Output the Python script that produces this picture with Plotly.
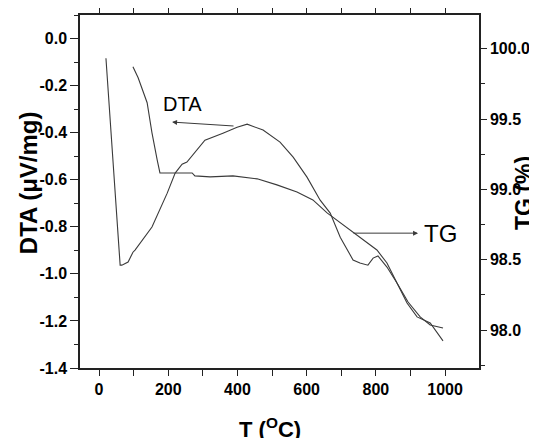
import plotly.graph_objs as go

# DTA curve (left axis, µV/mg)
dta_temp = [20, 61, 66, 84, 98, 104, 153, 197, 220, 240, 254, 277, 306, 358, 399, 428,
            474, 523, 561, 601, 639, 668, 697, 734, 754, 777, 792, 806, 832, 861, 890,
            919, 957, 994]
dta_val = [-0.084, -0.963, -0.963, -0.950, -0.908, -0.899, -0.801, -0.657, -0.572, -0.534,
           -0.525, -0.483, -0.432, -0.402, -0.377, -0.364, -0.389, -0.440, -0.504, -0.589,
           -0.687, -0.742, -0.844, -0.941, -0.954, -0.963, -0.933, -0.924, -0.971, -1.039,
           -1.124, -1.183, -1.209, -1.285]

# TG curve (right axis, %)
tg_temp = [98, 113, 139, 153, 168, 176, 269, 277, 321, 387, 457, 514, 572, 618, 659, 725,
           763, 803, 832, 861, 893, 928, 957, 994]
tg_val = [99.872, 99.794, 99.616, 99.402, 99.210, 99.117, 99.117, 99.096, 99.089, 99.096,
          99.075, 99.032, 98.982, 98.925, 98.833, 98.712, 98.641, 98.569, 98.477, 98.335,
          98.199, 98.093, 98.036, 98.014]

x_ticks = [0, 200, 400, 600, 800, 1000]
dta_ticks = [0.0, -0.2, -0.4, -0.6, -0.8, -1.0, -1.2, -1.4]
dta_labels = ['0.0', '-0.2', '-0.4', '-0.6', '-0.8', '-1.0', '-1.2', '-1.4']
tg_ticks = [98.0, 98.5, 99.0, 99.5, 100.0]

FONT = 'Liberation Sans, Arial, sans-serif'
TICKFONT = dict(family=FONT, size=16, color='black', weight='bold')
LINE = '#3a3a3a'

fig = go.Figure()

fig.add_trace(go.Scatter(x=dta_temp, y=dta_val, mode='lines',
                         line=dict(color=LINE, width=1.1), yaxis='y'))
fig.add_trace(go.Scatter(x=tg_temp, y=tg_val, mode='lines',
                         line=dict(color=LINE, width=1.1), yaxis='y2'))

axis_common = dict(showline=True, linecolor='#222', linewidth=1.5, ticks='outside',
                   tickcolor='#222', tickwidth=1.2, showgrid=False, zeroline=False,
                   tickfont=TICKFONT, automargin=False)

# page body adds an 8px offset, so the figure is 8px smaller than the window
fig.update_layout(
    width=529, height=430,
    margin=dict(l=72, r=58, t=7, b=70, autoexpand=False),
    paper_bgcolor='white', plot_bgcolor='white',
    showlegend=False,
    font=dict(family=FONT, color='black'),
    xaxis=dict(range=[-55, 1098], tickvals=x_ticks, ticklen=6, mirror='allticks',
               minor=dict(dtick=100, tick0=0, ticks='outside', ticklen=4,
                          tickcolor='#222'),
               **axis_common),
    yaxis=dict(range=[-1.4, 0.1], tickvals=dta_ticks, ticktext=dta_labels, ticklen=8,
               minor=dict(dtick=0.1, tick0=0, ticks='outside', ticklen=4,
                          tickcolor='#222'),
               **axis_common),
    yaxis2=dict(range=[97.73, 100.24], overlaying='y', side='right',
                tickvals=tg_ticks, tickformat='.1f', ticklen=6,
                minor=dict(dtick=0.25, tick0=0, ticks='outside', ticklen=4,
                           tickcolor='#222'),
                **axis_common),
)

# axis titles
fig.add_annotation(xref='paper', yref='paper', x=-0.13, y=0.524, textangle=-90,
                   xanchor='center', yanchor='middle',
                   text='DTA (μV/mg)', showarrow=False,
                   font=dict(family=FONT, size=24, weight='bold'))
fig.add_annotation(xref='paper', yref='paper', x=1.113, y=0.496, textangle=-90,
                   xanchor='center', yanchor='middle',
                   text='TG (%)', showarrow=False,
                   font=dict(family=FONT, size=23, weight='bold'))
fig.add_annotation(xref='paper', yref='paper', x=0.476, y=-0.17,
                   xanchor='center', yanchor='middle',
                   text='T (<sup>O</sup>C)', showarrow=False,
                   font=dict(family=FONT, size=22, weight='bold'))

# curve labels with arrows
fig.add_annotation(x=240, y=-0.279, text='DTA', showarrow=False,
                   font=dict(family=FONT, size=20))
fig.add_annotation(x=211, y=-0.355, ax=393, ay=-0.372, axref='x', ayref='y',
                   text='', showarrow=True, arrowhead=2, arrowsize=1,
                   arrowwidth=1, arrowcolor=LINE)
fig.add_annotation(x=986, y=-0.827, text='TG', showarrow=False,
                   font=dict(family=FONT, size=24))
fig.add_annotation(x=922, y=-0.827, ax=731, ay=-0.827, axref='x', ayref='y',
                   text='', showarrow=True, arrowhead=2, arrowsize=1,
                   arrowwidth=1, arrowcolor=LINE)

fig.write_html("out.html")
